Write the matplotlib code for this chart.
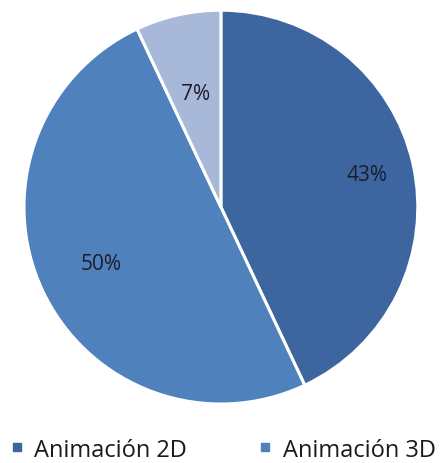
import numpy as np
import matplotlib
matplotlib.use("Agg")
import matplotlib.pyplot as plt
from matplotlib.lines import Line2D

plt.rcParams["font.family"] = ["Open Sans", "DejaVu Sans"]

# share of productions per animation type (clockwise from 12 o'clock)
labels = ["Animación 2D", "Animación 3D", "Otros"]
shares = [43, 50, 7]
colors = ["#3D66A0", "#4F81BD", "#A8B8D8"]
label_radius = [0.76, 0.67, 0.59]

fig = plt.figure(figsize=(4.45, 4.64), dpi=100)
ax = fig.add_axes([0.0539, 0.127, 0.885, 0.849])

wedges, _ = ax.pie(shares, colors=colors, startangle=90, counterclock=False,
                   radius=1.0,
                   wedgeprops=dict(edgecolor="white", linewidth=2.2))

# percentage labels placed along each wedge's bisector
for w, val, r in zip(wedges, shares, label_radius):
    mid = np.deg2rad((w.theta1 + w.theta2) / 2)
    ax.text(r * np.cos(mid), r * np.sin(mid), f"{val}%",
            ha="center", va="center", fontsize=15, color="#1c1c2a")

ax.set_xlim(-1.0, 1.0)
ax.set_ylim(-1.0, 1.0)
ax.set_aspect("equal")
ax.axis("off")

# legend only lists the first two series; the second runs off the right edge
handles = [Line2D([], [], marker="s", linestyle="none", markersize=5.2,
                  color=c) for c in colors[:2]]
fig.legend(handles, labels[:2], loc="center left", ncol=2,
           bbox_to_anchor=(0.0216, 0.029), frameon=False, fontsize=17,
           labelcolor="#1a1a1a",
           handlelength=0.6, handletextpad=0.45, columnspacing=3.0,
           borderpad=0.0, borderaxespad=0.0)

fig.savefig("out.png", dpi=100)
